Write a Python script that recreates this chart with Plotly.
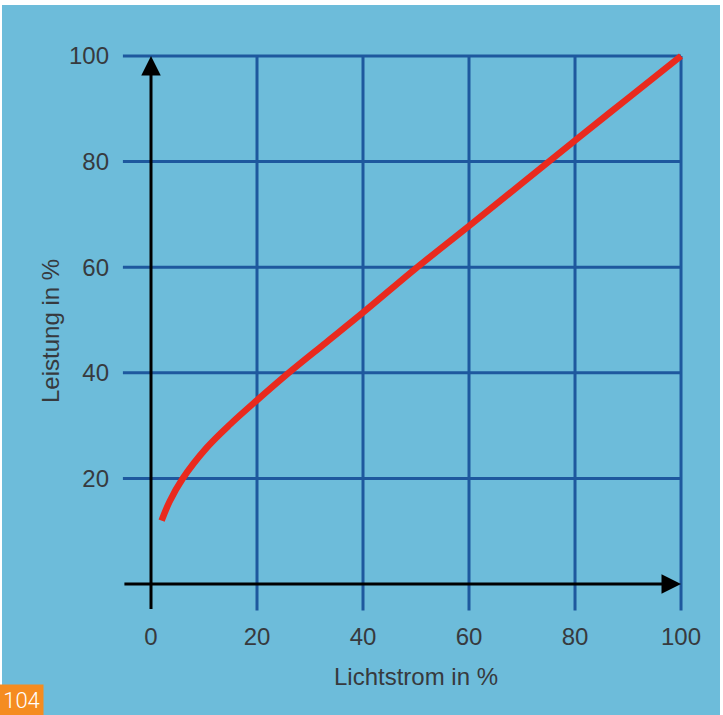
import plotly.graph_objects as go

# ---- data ----
lichtstrom = [2, 3.5, 6, 10.5, 15, 20, 26, 33, 40, 50, 60, 70, 80, 90, 100]
leistung = [12, 15.6, 20, 25.8, 30.3, 34.8, 40, 45.7, 51.4, 59.8, 67.8, 75.9, 84, 92, 100]
x_ticks = [0, 20, 40, 60, 80, 100]
y_ticks = [20, 40, 60, 80, 100]
x_title = "Lichtstrom in %"
y_title = "Leistung in %"
fig_number = "104"

# ---- layout constants ----
W_FIG, H_FIG = 723, 715
L, R, T, B = 110, 15, 30, 95
PW, PH = W_FIG - L - R, H_FIG - T - B
XR = [-7.736, 105.09]
YR = [-6.818, 104.92]

BG = "rgb(109,188,218)"
GRID = "rgb(30,88,158)"
RED = "rgb(233,42,30)"
TXT = "rgb(55,58,62)"
FONT = "Liberation Sans, Arial, Helvetica, sans-serif"
FS = 24

def px_x(p):
    return (p - L) / PW

def px_y(p):
    return (H_FIG - B - p) / PH

fig = go.Figure()

shapes = []
# blue panel background
shapes.append(dict(type="rect", xref="paper", yref="paper", x0=px_x(2), x1=px_x(720),
                   y0=px_y(716), y1=px_y(5), fillcolor=BG, line=dict(width=0), layer="below"))
# grid lines
for v in x_ticks[1:]:
    shapes.append(dict(type="line", xref="x", yref="y", x0=v, x1=v, y0=-5, y1=100,
                       line=dict(color=GRID, width=3), layer="below"))
for v in y_ticks:
    shapes.append(dict(type="line", xref="x", yref="y", x0=-5.3, x1=100, y0=v, y1=v,
                       line=dict(color=GRID, width=3), layer="below"))

fig.add_trace(go.Scatter(x=lichtstrom, y=leistung, mode="lines",
                         line=dict(color=RED, width=6.5, shape="spline", smoothing=1),
                         hoverinfo="skip", showlegend=False))

annotations = []
# axes with arrowheads
annotations.append(dict(x=0, y=100, ax=0, ay=-5, xref="x", yref="y", axref="x", ayref="y",
                        text="", showarrow=True, arrowhead=2, arrowsize=1.3, arrowwidth=3,
                        arrowcolor="black", standoff=0, startstandoff=0))
annotations.append(dict(x=100, y=0, ax=-5.3, ay=0, xref="x", yref="y", axref="x", ayref="y",
                        text="", showarrow=True, arrowhead=2, arrowsize=1.3, arrowwidth=3,
                        arrowcolor="black", standoff=0, startstandoff=0))
# axis titles
annotations.append(dict(x=px_x(416), y=px_y(676), xref="paper", yref="paper", text=x_title,
                        showarrow=False, font=dict(family=FONT, size=FS, color=TXT),
                        xanchor="center", yanchor="middle"))
annotations.append(dict(x=px_x(50), y=px_y(331), xref="paper", yref="paper", text=y_title,
                        showarrow=False, textangle=-90, font=dict(family=FONT, size=FS, color=TXT),
                        xanchor="center", yanchor="middle"))
# figure number box
annotations.append(dict(x=px_x(21.5), y=px_y(700), xref="paper", yref="paper", text=fig_number,
                        showarrow=False,
                        font=dict(family="Roboto, Lato, sans-serif", size=22, color="white", weight=300),
                        bgcolor="rgb(245,140,32)", width=43, height=30, borderpad=0,
                        xanchor="center", yanchor="middle"))

fig.update_layout(
    width=W_FIG, height=H_FIG,
    margin=dict(l=L, r=R, t=T, b=B, pad=0),
    paper_bgcolor="white", plot_bgcolor=BG,
    shapes=shapes, annotations=annotations,
    showlegend=False,
    xaxis=dict(range=XR, tickvals=x_ticks, showgrid=False, zeroline=False, showline=False,
               ticks="", tickfont=dict(family=FONT, size=FS, color=TXT), fixedrange=True),
    yaxis=dict(range=YR, tickvals=y_ticks, showgrid=False, zeroline=False, showline=False,
               ticks="", tickfont=dict(family=FONT, size=FS, color=TXT), fixedrange=True),
)

fig.write_html("out.html", config={"displayModeBar": False},
               post_script="document.body.style.margin='0';document.body.style.overflow='hidden';")
